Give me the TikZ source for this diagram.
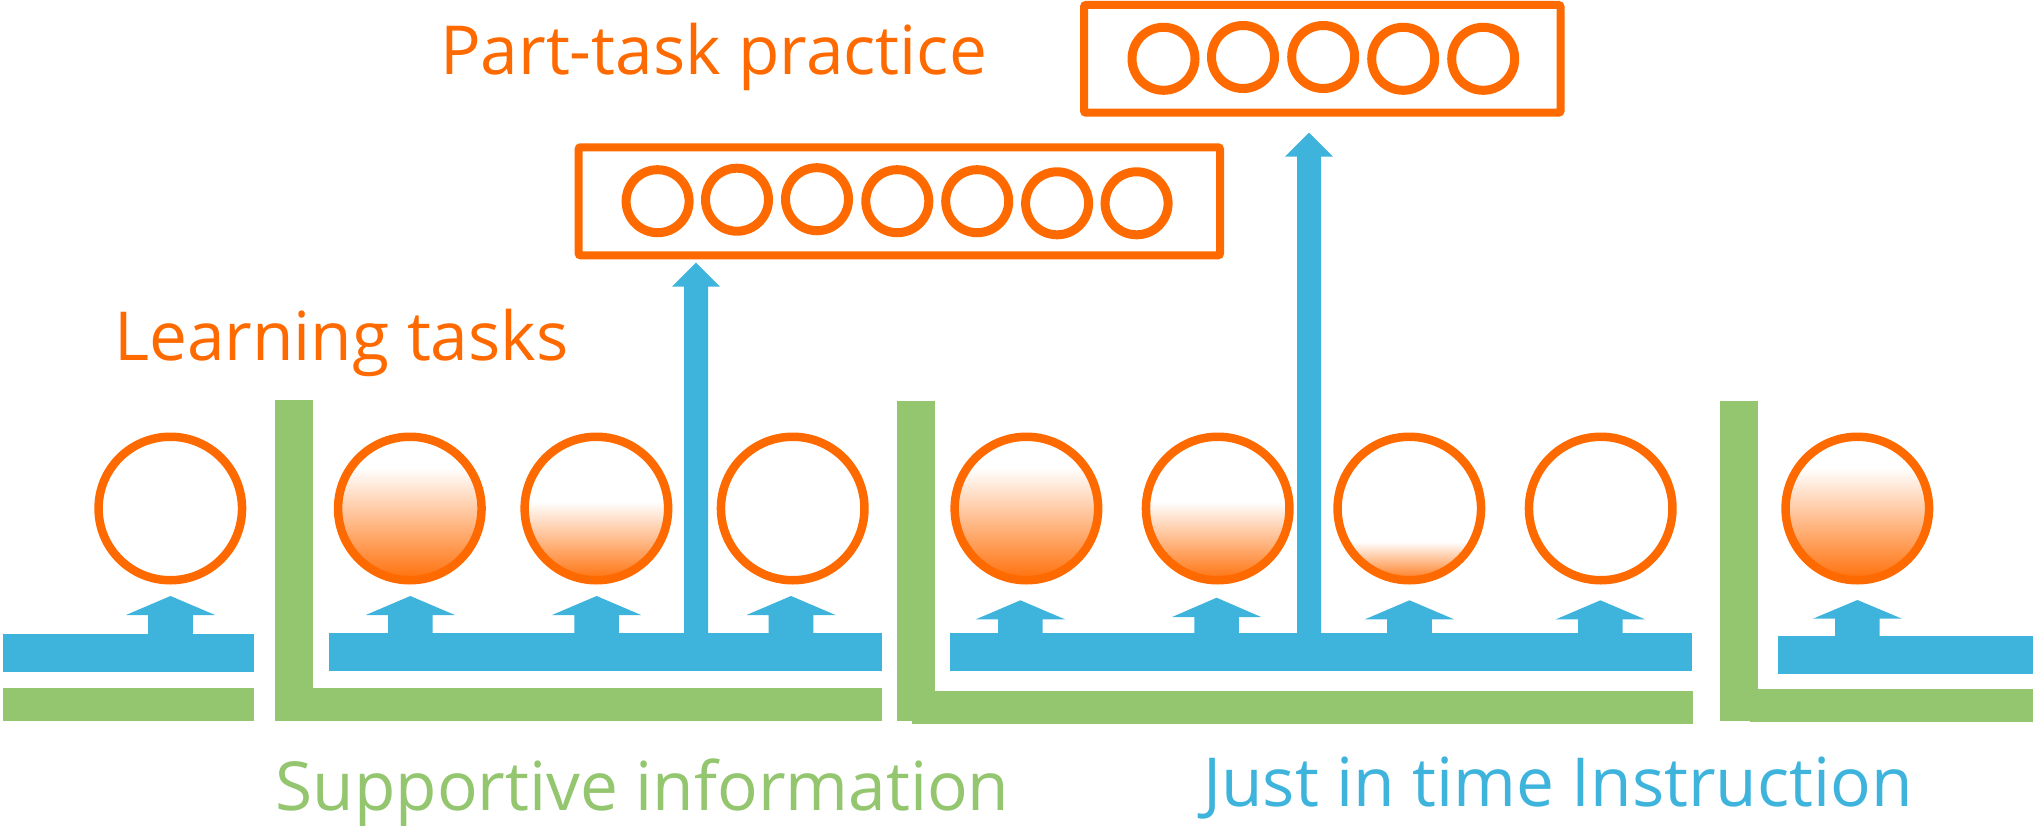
\documentclass[tikz,border=0pt]{standalone}
\usepackage{fontspec}
\newfontfamily\lblfont{Open Sans}
\definecolor{orangec}{RGB}{255,106,0}
\definecolor{bluec}{RGB}{62,180,221}
\definecolor{greenc}{RGB}{147,198,110}
\newcommand\blkarrow[6]{% x, base y, head base y, tip y, stem half width, head half width
  \fill[bluec] (#1-#5,#2) -- (#1-#5,#3) -- (#1-#6,#3) -- (#1,#4) -- (#1+#6,#3) -- (#1+#5,#3) -- (#1+#5,#2) -- cycle;}
\newcommand\gradfill[3]{% x, y centre, y where white ends
  \begin{scope}\clip (#1,#2) circle (71.75pt);
  \shade[top color=white,bottom color=orangec] (#1-80,#3) rectangle (#1+80,#2+76);\end{scope}}
\begin{document}
\begin{tikzpicture}[x=1pt,y=-1pt,
  ring/.style={circle, draw=orangec, line width=8.5pt, minimum size=143.5pt, inner sep=0pt},
  smallring/.style={circle, draw=orangec, line width=9pt, minimum size=63pt, inner sep=0pt},
  taskbox/.style={draw=orangec, line width=8pt, rounded corners=2pt},
  lbl/.style={anchor=base west, inner sep=0pt, font=\lblfont\fontsize{67.6}{80}\selectfont}]
\useasboundingbox (0,0) rectangle (2033,826);
\fill[white] (0,0) rectangle (2033,826);
% green supportive information bars
\fill[greenc] (3,687.7) rectangle (254,720.7);
\fill[greenc] (275,400) rectangle (313,720.7);
\fill[greenc] (275,687.7) rectangle (881.8,720.7);
\fill[greenc] (897,401) rectangle (935,720.7);
\fill[greenc] (912,691) rectangle (1692.8,723.7);
\fill[greenc] (1719.8,401) rectangle (1758,720.7);
\fill[greenc] (1749.8,689) rectangle (2033,721.7);
% blue just-in-time bars
\fill[bluec] (3,634) rectangle (254,671.7);
\fill[bluec] (329,633) rectangle (881.8,670.7);
\fill[bluec] (950,633) rectangle (1691.9,670.7);
\fill[bluec] (1778,636) rectangle (2033,673.7);
% small arrows
\blkarrow{170.5}{640}{615}{596}{22.3}{44.5}
\blkarrow{410.3}{640}{615}{596}{22.3}{44.5}
\blkarrow{596.6}{640}{615}{596}{22.3}{44.5}
\blkarrow{791}{640}{615}{596}{22.3}{44.5}
\blkarrow{1020.4}{640}{619.3}{600.3}{22.3}{44.5}
\blkarrow{1216.6}{640}{617}{597.7}{22.3}{44.5}
\blkarrow{1409.5}{640}{619.3}{600.3}{22.3}{44.5}
\blkarrow{1600.4}{640}{619.3}{600.3}{22.3}{44.5}
\blkarrow{1857.4}{640}{618.7}{600}{22.3}{44.5}
% tall arrows
\blkarrow{696}{640}{286.7}{262.7}{12}{24}
\blkarrow{1309}{640}{156.7}{132.7}{12}{24}
% gradients
\gradfill{409.8}{508.5}{468}
\gradfill{596.4}{508.5}{501.7}
\gradfill{1026.4}{508.5}{468}
\gradfill{1217.7}{508.5}{501.7}
\gradfill{1409.3}{508.5}{541.7}
\gradfill{1857.3}{508.5}{468}
% learning task rings
\node[ring] (lt1) at (170.3,508.5) {};
\node[ring] (lt2) at (409.8,508.5) {};
\node[ring] (lt3) at (596.4,508.5) {};
\node[ring] (lt4) at (792.7,508.5) {};
\node[ring] (lt5) at (1026.4,508.5) {};
\node[ring] (lt6) at (1217.7,508.5) {};
\node[ring] (lt7) at (1409.3,508.5) {};
\node[ring] (lt8) at (1600.7,508.5) {};
\node[ring] (lt9) at (1857.3,508.5) {};
% part-task boxes
\draw[taskbox] (578.6,147.3) rectangle (1220,255.3);
\draw[taskbox] (1084,5) rectangle (1560.5,112.7);
\node[smallring] (pa1) at (657.6,201.2) {};
\node[smallring] (pa2) at (737,199.7) {};
\node[smallring] (pa3) at (817,199.2) {};
\node[smallring] (pa4) at (897.3,201.2) {};
\node[smallring] (pa5) at (977.2,201.2) {};
\node[smallring] (pa6) at (1057.1,203.3) {};
\node[smallring] (pa7) at (1136.6,203.3) {};
\node[smallring] (pb1) at (1163.5,58.8) {};
\node[smallring] (pb2) at (1243,57) {};
\node[smallring] (pb3) at (1323.2,57) {};
\node[smallring] (pb4) at (1403.2,58.8) {};
\node[smallring] (pb5) at (1483.2,58.8) {};
% labels
\node[lbl, text=orangec] (ptp) at (440,75) {Part-task practice};
\node[lbl, text=orangec] (lts) at (114,360.7) {Learning tasks};
\node[lbl, text=greenc] (sup) at (275.4,810) {Supportive information};
\node[lbl, text=bluec] (jit) at (1203,806) {Just in time Instruction};
\end{tikzpicture}
\end{document}
